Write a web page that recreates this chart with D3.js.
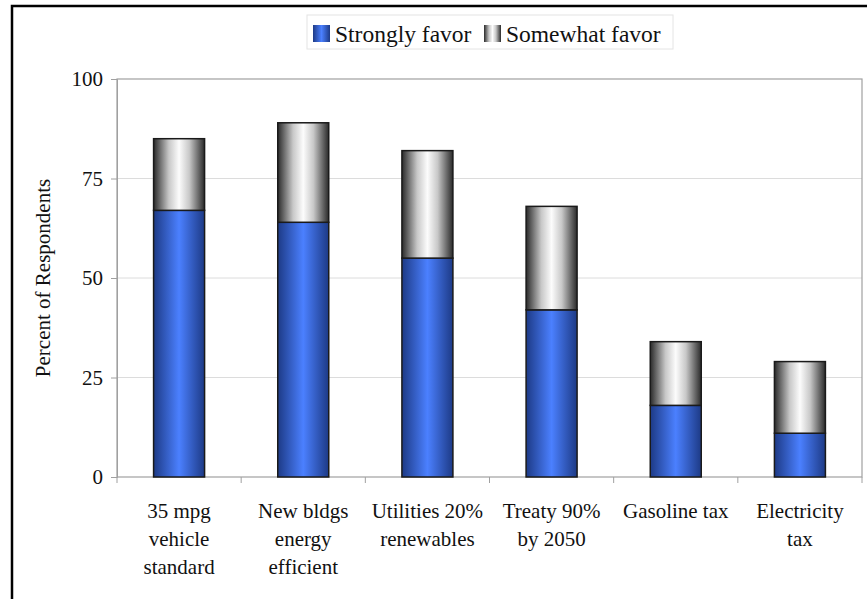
<!DOCTYPE html>
<html>
<head>
<meta charset="utf-8">
<script src="https://cdnjs.cloudflare.com/ajax/libs/d3/7.8.5/d3.min.js"></script>
<style>
  body { margin: 0; background: #fff; }
  svg { display: block; font-family: "Liberation Serif", "DejaVu Serif", serif; }
</style>
</head>
<body>
<svg id="chart" width="867" height="599"></svg>
<script>
// data
var categories = [
  ["35 mpg", "vehicle", "standard"],
  ["New bldgs", "energy", "efficient"],
  ["Utilities 20%", "renewables"],
  ["Treaty 90%", "by 2050"],
  ["Gasoline tax"],
  ["Electricity", "tax"]
];
var strongly = [67, 64, 55, 42, 18, 11];
var somewhat = [18, 25, 27, 26, 16, 18];
var yTicks = [0, 25, 50, 75, 100];
var seriesNames = ["Strongly favor", "Somewhat favor"];

var svg = d3.select("#chart");
var pLeft = 117, pTop = 79, pRight = 862, pBottom = 477;

// outer frame (only left and top edges visible in the crop)
svg.append("path")
  .attr("d", "M12,599 L12,6 L867,6")
  .attr("fill", "none").attr("stroke", "#000").attr("stroke-width", 2.5);

var defs = svg.append("defs");
function hgrad(id, stops) {
  var g = defs.append("linearGradient").attr("id", id)
    .attr("x1", "0%").attr("x2", "100%").attr("y1", "0%").attr("y2", "0%");
  stops.forEach(function(s) {
    g.append("stop").attr("offset", s[0]).attr("stop-color", s[1]);
  });
}
hgrad("gBlue", [["0%", "#1d3a86"], ["50%", "#4b80ff"], ["100%", "#1d3a86"]]);
hgrad("gGray", [["0%", "#2a2a2a"], ["30%", "#c8c8c8"], ["50%", "#fcfcfc"], ["70%", "#c8c8c8"], ["100%", "#2a2a2a"]]);

var x = d3.scaleBand().domain(d3.range(categories.length)).range([pLeft, pRight]).paddingInner(0).paddingOuter(0);
var y = d3.scaleLinear().domain([0, 100]).range([pBottom, pTop]);

// gridlines
svg.append("g").selectAll("line").data(yTicks.filter(function(d){ return d > 0 && d < 100; }))
  .enter().append("line")
  .attr("x1", pLeft).attr("x2", pRight)
  .attr("y1", function(d){ return y(d); }).attr("y2", function(d){ return y(d); })
  .attr("stroke", "#dcdcdc").attr("stroke-width", 1);

// plot frame
svg.append("rect").attr("x", pLeft).attr("y", pTop)
  .attr("width", pRight - pLeft).attr("height", pBottom - pTop)
  .attr("fill", "none").attr("stroke", "#a0a0a0").attr("stroke-width", 1.2);

// y axis
var yAxis = d3.axisLeft(y).tickValues(yTicks).tickSize(6).tickPadding(8);
var ya = svg.append("g").attr("transform", "translate(" + pLeft + ",0)").call(yAxis);
ya.select(".domain").attr("stroke", "#a0a0a0");
ya.selectAll(".tick line").attr("stroke", "#a0a0a0");
ya.selectAll("text").attr("font-size", 21).attr("fill", "#111")
  .attr("font-family", "Liberation Serif, serif");

// x axis ticks at category boundaries
var bounds = d3.range(categories.length + 1).map(function(i){ return pLeft + i * x.bandwidth(); });
svg.append("g").selectAll("line").data(bounds).enter().append("line")
  .attr("x1", function(d){ return d; }).attr("x2", function(d){ return d; })
  .attr("y1", pBottom).attr("y2", pBottom + 6)
  .attr("stroke", "#a0a0a0");

// bars
var bw = 51;
var g = svg.append("g");
categories.forEach(function(c, i) {
  var cx = x(i) + x.bandwidth() / 2;
  g.append("rect")
    .attr("x", cx - bw / 2).attr("y", y(strongly[i]))
    .attr("width", bw).attr("height", y(0) - y(strongly[i]))
    .attr("fill", "url(#gBlue)").attr("stroke", "#1a1a1a").attr("stroke-width", 1.5);
  g.append("rect")
    .attr("x", cx - bw / 2).attr("y", y(strongly[i] + somewhat[i]))
    .attr("width", bw).attr("height", y(strongly[i]) - y(strongly[i] + somewhat[i]))
    .attr("fill", "url(#gGray)").attr("stroke", "#1a1a1a").attr("stroke-width", 1.5);
});

// category labels
var lab = svg.append("g");
categories.forEach(function(lines, i) {
  var t = lab.append("text")
    .attr("x", x(i) + x.bandwidth() / 2).attr("y", 518)
    .attr("text-anchor", "middle").attr("font-size", 21).attr("fill", "#111");
  lines.forEach(function(s, k) {
    t.append("tspan").attr("x", x(i) + x.bandwidth() / 2)
      .attr("dy", k === 0 ? 0 : 28).text(s);
  });
});

// y title
svg.append("text")
  .attr("transform", "translate(50," + ((pTop + pBottom) / 2) + ") rotate(-90)")
  .attr("text-anchor", "middle").attr("font-size", 21).attr("fill", "#111")
  .text("Percent of Respondents");

// legend
var leg = svg.append("g");
leg.append("rect").attr("x", 307).attr("y", 15).attr("width", 366).attr("height", 34)
  .attr("fill", "#fff").attr("stroke", "#e4e4e4");
var legX = [313, 484];
seriesNames.forEach(function(n, i) {
  leg.append("rect").attr("x", legX[i]).attr("y", 25).attr("width", 17).attr("height", 17)
    .attr("fill", i === 0 ? "url(#gBlue)" : "url(#gGray)");
  leg.append("text").attr("x", legX[i] + 22).attr("y", 42)
    .attr("font-size", 23.5).attr("fill", "#111").text(n);
});
</script>
</body>
</html>
